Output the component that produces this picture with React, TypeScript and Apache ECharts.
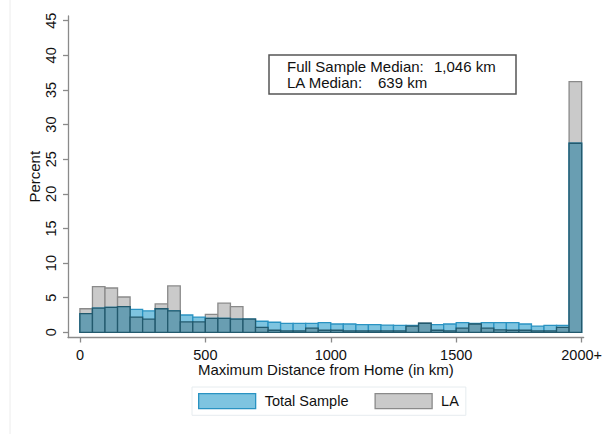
import React, { useEffect, useRef } from "react";
import * as echarts from "echarts";

const binStarts = [
  0, 50, 100, 150, 200, 250, 300, 350, 400, 450,
  500, 550, 600, 650, 700, 750, 800, 850, 900, 950,
  1000, 1050, 1100, 1150, 1200, 1250, 1300, 1350, 1400, 1450,
  1500, 1550, 1600, 1650, 1700, 1750, 1800, 1850, 1900, 1950,
];
const binWidth = 50;
const totalSample = [
  2.7, 3.5, 3.6, 3.7, 3.3, 3.1, 3.4, 3.1, 2.5, 2.2,
  2.0, 2.0, 1.9, 1.9, 1.6, 1.45, 1.3, 1.3, 1.3, 1.4,
  1.2, 1.2, 1.1, 1.1, 1.05, 1.0, 1.0, 1.3, 1.1, 1.2,
  1.4, 1.3, 1.4, 1.4, 1.4, 1.2, 0.9, 1.0, 1.0, 27.3,
];
const laSample = [
  3.4, 6.6, 6.4, 5.1, 2.2, 1.9, 4.1, 6.7, 1.5, 1.5,
  2.6, 4.2, 3.7, 1.9, 0.7, 0.3, 0.2, 0.2, 0.6, 0.3,
  0.3, 0.2, 0.2, 0.2, 0.2, 0.2, 0.9, 1.35, 0.3, 0.2,
  0.6, 1.2, 0.6, 0.35, 0.3, 0.3, 0.2, 0.2, 0.7, 36.2,
];
const xTicks = [0, 500, 1000, 1500, 2000];
const yTicks = [0, 5, 10, 15, 20, 25, 30, 35, 40, 45];

const FONT = "'Liberation Sans', Arial, sans-serif";
const TXT = "#111";
const AXIS = "#8a8a8a";

const BLUE_FILL = "#7ec4e0";
const BLUE_STROKE = "#2a93c2";
const GREY_FILL = "#cacaca";
const GREY_STROKE = "#8a8a8a";
const OV_FILL = "#699eb2";
const OV_STROKE = "#22596d";

function makeSeries(name: string, values: number[], fill: string, stroke: string, z: number) {
  return {
    type: "custom",
    name,
    z,
    data: values.map((v, i) => [binStarts[i], v]),
    renderItem: (params: any, api: any) => {
      const x0 = api.value(0);
      const v = api.value(1);
      const p0 = api.coord([x0, 0]);
      const p1 = api.coord([x0 + binWidth, v]);
      return {
        type: "rect",
        shape: { x: p0[0], y: p1[1], width: p1[0] - p0[0], height: p0[1] - p1[1] },
        style: { fill, stroke, lineWidth: 1.3 },
      };
    },
    itemStyle: { color: fill, borderColor: stroke },
  };
}

export default function App() {
  const ref = useRef<HTMLDivElement>(null);
  useEffect(() => {
    if (!ref.current) return;
    const chart = echarts.init(ref.current, null, { renderer: "svg" });
    const overlap = totalSample.map((v, i) => Math.min(v, laSample[i]));
    chart.setOption({
      animation: false,
      backgroundColor: "#fff",
      grid: { left: 68, top: 16, width: 519, height: 321.5, containLabel: false },
      xAxis: {
        type: "value",
        min: -47.5,
        max: 2008,
        axisLine: { show: true, onZero: false, lineStyle: { color: AXIS, width: 1.3 } },
        axisTick: { show: true, length: 5, customValues: xTicks, lineStyle: { color: AXIS, width: 1.3 } },
        axisLabel: {
          customValues: xTicks,
          formatter: (v: number) => (v === 2000 ? "2000+" : String(v)),
          fontSize: 14.5,
          lineHeight: 14,
          fontFamily: FONT,
          color: TXT,
          margin: 10,
        },
        splitLine: { show: false },
        name: "Maximum Distance from Home (in km)",
        nameLocation: "middle",
        nameGap: 24.5,
        nameMoveOverlap: false,
        nameTextStyle: { fontSize: 15, lineHeight: 15, fontFamily: FONT, color: TXT },
      },
      yAxis: {
        type: "value",
        min: -0.75,
        max: 45.68,
        axisLine: { show: true, onZero: false, lineStyle: { color: AXIS, width: 1.3 } },
        axisTick: { show: true, length: 5, customValues: yTicks, lineStyle: { color: AXIS, width: 1.3 } },
        axisLabel: {
          customValues: yTicks,
          rotate: 90,
          fontSize: 14.5,
          fontFamily: FONT,
          color: TXT,
          margin: 10,
        },
        splitLine: { show: false },
        name: "Percent",
        nameLocation: "middle",
        nameGap: 26,
        nameMoveOverlap: false,
        nameTextStyle: { fontSize: 15, fontFamily: FONT, color: TXT },
      },
      legend: {
        left: 192,
        top: 387,
        orient: "horizontal",
        padding: [6, 7, 6, 6],
        borderColor: "#e6ecef",
        borderWidth: 1,
        itemWidth: 57,
        itemHeight: 15,
        itemGap: 26,
        selectedMode: false,
        textStyle: { fontSize: 14.5, fontFamily: FONT, color: TXT, padding: [0, 0, 0, 4] },
        data: [
          { name: "Total Sample", icon: "rect", itemStyle: { color: BLUE_FILL, borderColor: BLUE_STROKE, borderWidth: 1.3 } },
          { name: "LA", icon: "rect", itemStyle: { color: GREY_FILL, borderColor: GREY_STROKE, borderWidth: 1.3 } },
        ],
      },
      graphic: [
        { type: "line", shape: { x1: 10, y1: 0, x2: 10, y2: 434 }, style: { stroke: "#ececec", lineWidth: 1 } },
        {
          type: "rect",
          shape: { x: 269, y: 55, width: 247, height: 39 },
          style: { fill: "#fff", stroke: "#555", lineWidth: 1.5 },
          z: 10,
        },
        { type: "text", x: 287, y: 66, z: 11, style: { text: "Full Sample Median:", font: `15px ${FONT}`, fill: TXT, verticalAlign: "middle" } },
        { type: "text", x: 434, y: 66, z: 11, style: { text: "1,046 km", font: `15px ${FONT}`, fill: TXT, verticalAlign: "middle" } },
        { type: "text", x: 287, y: 82, z: 11, style: { text: "LA Median:", font: `15px ${FONT}`, fill: TXT, verticalAlign: "middle" } },
        { type: "text", x: 378, y: 82, z: 11, style: { text: "639 km", font: `15px ${FONT}`, fill: TXT, verticalAlign: "middle" } },
      ],
      series: [
        makeSeries("LA", laSample, GREY_FILL, GREY_STROKE, 2),
        makeSeries("Total Sample", totalSample, BLUE_FILL, BLUE_STROKE, 3),
        makeSeries("Overlap", overlap, OV_FILL, OV_STROKE, 4),
      ],
    });
    return () => chart.dispose();
  }, []);
  return <div ref={ref} style={{ position: "fixed", left: 0, top: 0, width: 605, height: 434 }} />;
}
